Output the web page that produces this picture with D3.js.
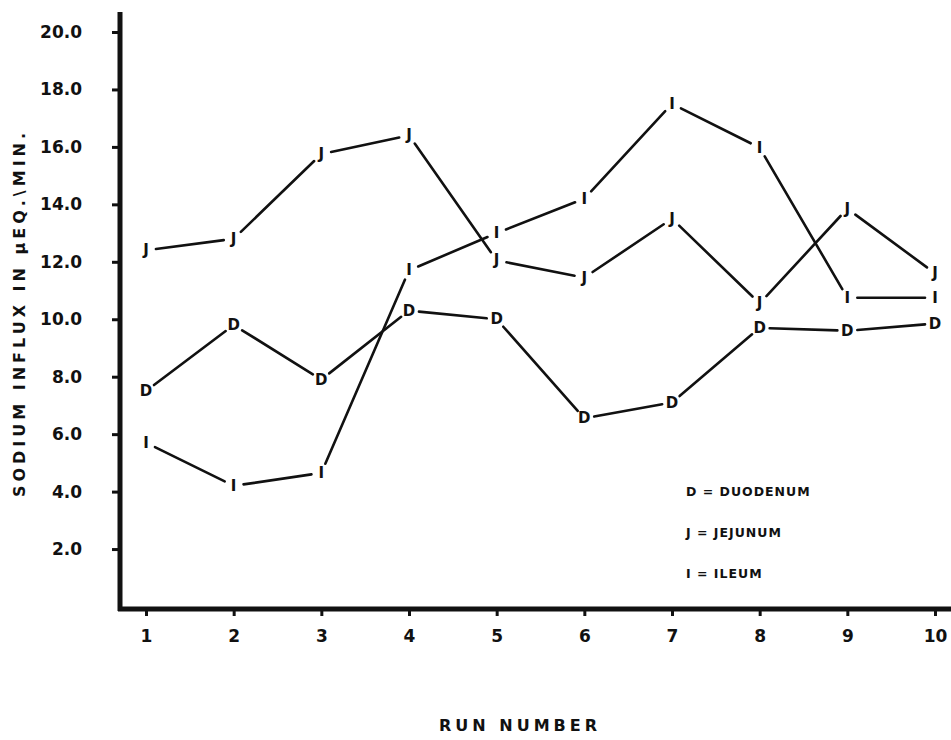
<!DOCTYPE html>
<html>
<head>
<meta charset="utf-8">
<script src="https://cdn.jsdelivr.net/npm/d3@7"></script>
<style>
  body { margin: 0; background: #fff; }
  text { font-family: "DejaVu Sans", sans-serif; fill: #111; }
  .tick { font-weight: bold; font-size: 17px; }
  .mark { font-weight: bold; font-size: 15px; }
  .title { font-weight: bold; font-size: 16px; letter-spacing: 4px; }
  .legend { font-weight: bold; font-size: 12.5px; letter-spacing: 1px; }
</style>
</head>
<body>
<div id="chart"></div>
<script>
// run numbers and sodium influx per segment
var runs = [1, 2, 3, 4, 5, 6, 7, 8, 9, 10];
var duodenum = [7.5, 9.8, 7.9, 10.3, 10.0, 6.55, 7.1, 9.7, 9.6, 9.85];
var jejunum  = [12.4, 12.8, 15.75, 16.4, 12.05, 11.45, 13.5, 10.55, 13.85, 11.6];
var ileum    = [5.7, 4.2, 4.65, 11.7, 13.0, 14.2, 17.5, 15.97, 10.75, 10.75];
var yTicks = [2, 4, 6, 8, 10, 12, 14, 16, 18, 20];
var legendLabels = ["D = DUODENUM", "J = JEJUNUM", "I = ILEUM"];

var width = 951, height = 740;

var svg = d3.select("#chart").append("svg")
    .attr("width", width)
    .attr("height", height);

var x = d3.scaleLinear().domain([1, 10]).range([146, 935]);
var y = d3.scaleLinear().domain([0, 20]).range([606.5, 32]);

var xAxis = d3.axisBottom(x).tickValues(runs).tickSize(7).tickPadding(12)
    .tickFormat(d3.format("d"));
var yAxis = d3.axisLeft(y).tickValues(yTicks).tickSize(8).tickPadding(30)
    .tickFormat(d3.format(".1f"));

var gx = svg.append("g").attr("transform", "translate(0,609)").call(xAxis);
var gy = svg.append("g").attr("transform", "translate(120,0)").call(yAxis);

[gx, gy].forEach(function(g) {
    g.select(".domain").remove();
    g.selectAll(".tick line").attr("stroke", "#111").attr("stroke-width", 3);
    g.selectAll(".tick text").attr("class", "tick").attr("font-family", null).attr("font-size", null);
});
gx.selectAll(".tick text").attr("dy", "0.8em");

// thick axis lines
svg.append("line")
    .attr("x1", 120).attr("y1", 12).attr("x2", 120).attr("y2", 611)
    .attr("stroke", "#111").attr("stroke-width", 5);
svg.append("line")
    .attr("x1", 118).attr("y1", 609).attr("x2", 951).attr("y2", 609)
    .attr("stroke", "#111").attr("stroke-width", 5);

// series: lines with gaps around the letter markers
var series = [
    {letter: "D", values: duodenum},
    {letter: "J", values: jejunum},
    {letter: "I", values: ileum}
];
var gap = 10;

series.forEach(function(s) {
    var pts = s.values.map(function(v, i) { return [x(runs[i]), y(v)]; });
    var segs = d3.pairs(pts);
    svg.append("g").selectAll("line")
        .data(segs)
        .enter()
        .append("line")
        .each(function(d) {
            var dx = d[1][0] - d[0][0], dy = d[1][1] - d[0][1];
            var len = Math.sqrt(dx * dx + dy * dy);
            var ux = dx / len, uy = dy / len;
            d3.select(this)
                .attr("x1", d[0][0] + ux * gap).attr("y1", d[0][1] + uy * gap)
                .attr("x2", d[1][0] - ux * gap).attr("y2", d[1][1] - uy * gap);
        })
        .attr("stroke", "#111")
        .attr("stroke-width", 2.6)
        .attr("stroke-linecap", "round");

    svg.append("g").selectAll("text")
        .data(pts)
        .enter()
        .append("text")
        .attr("class", "mark")
        .attr("x", function(d) { return d[0]; })
        .attr("y", function(d) { return d[1]; })
        .attr("text-anchor", "middle")
        .attr("dominant-baseline", "central")
        .text(s.letter);
});

// axis titles
svg.append("text")
    .attr("class", "title")
    .attr("transform", "translate(19,313) rotate(-90)")
    .attr("text-anchor", "middle")
    .attr("dominant-baseline", "central")
    .text("SODIUM  INFLUX  IN  \u03BCEQ.\\MIN.");

svg.append("text")
    .attr("class", "title")
    .attr("x", 520)
    .attr("y", 731)
    .attr("text-anchor", "middle")
    .text("RUN  NUMBER");

// legend
svg.append("g").selectAll("text")
    .data(legendLabels)
    .enter()
    .append("text")
    .attr("class", "legend")
    .attr("x", 686)
    .attr("y", function(_, i) { return 496 + i * 41; })
    .text(function(d) { return d; });
</script>
</body>
</html>
